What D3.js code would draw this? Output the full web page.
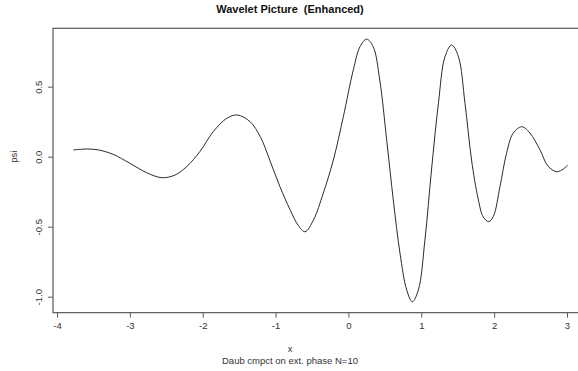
<!DOCTYPE html>
<html>
<head>
<meta charset="utf-8">
<script src="https://cdn.jsdelivr.net/npm/d3@7"></script>
<style>
  html, body { margin: 0; padding: 0; background: #fff; }
  svg { display: block; }
  text { font-family: "Liberation Sans", Arial, sans-serif; white-space: pre; }
</style>
</head>
<body>
<svg id="chart" width="578" height="371"></svg>
<script>
// Daubechies compactly supported wavelet, extremal phase, N=10 (sampled psi)
const xs = [-3.776, -3.59, -3.43, -3.23, -3.0, -2.77, -2.56, -2.38, -2.22, -2.04,
  -1.855, -1.67, -1.525, -1.35, -1.21, -1.08, -0.94, -0.80, -0.69, -0.596,
  -0.48, -0.345, -0.207, -0.07, 0.067, 0.159, 0.25, 0.34, 0.43, 0.525,
  0.616, 0.708, 0.80, 0.877, 0.96, 1.05, 1.14, 1.235, 1.325, 1.417,
  1.51, 1.60, 1.69, 1.78, 1.85, 1.925, 1.99, 2.08, 2.17, 2.26,
  2.38, 2.49, 2.63, 2.74, 2.86, 2.95, 3.01];
const psi = [0.048, 0.055, 0.048, 0.017, -0.047, -0.114, -0.150, -0.131, -0.071, 0.036,
  0.179, 0.274, 0.298, 0.250, 0.143, -0.024, -0.214, -0.380, -0.49, -0.536,
  -0.452, -0.260, -0.024, 0.286, 0.620, 0.786, 0.840, 0.786, 0.548, 0.120,
  -0.310, -0.690, -0.952, -1.036, -0.952, -0.595, -0.095, 0.381, 0.714, 0.798,
  0.714, 0.381, -0.024, -0.300, -0.430, -0.464, -0.425, -0.214, 0.024, 0.167,
  0.214, 0.170, 0.048, -0.068, -0.107, -0.088, -0.059];

const xTicks = [-4, -3, -2, -1, 0, 1, 2, 3];
const yTicks = [-1.0, -0.5, 0.0, 0.5];

const titleText = "Wavelet Picture  (Enhanced)";
const xLabel = "x";
const yLabel = "psi";
const subText = "Daub cmpct on ext. phase N=10";

const svg = d3.select("#chart");

const x = d3.scaleLinear().domain([-4, 3]).range([57, 567]);
const y = d3.scaleLinear().domain([0, -1]).range([156.7, 296.7]);

// plot region limits (data range padded by 4%)
const xLim = [-4.055, 3.3];
const yLim = [-1.114, 0.917];

const axisCol = "#5a5a5a";

// plot box
svg.append("rect")
  .attr("x", x(xLim[0]))
  .attr("y", y(yLim[1]))
  .attr("width", x(xLim[1]) - x(xLim[0]))
  .attr("height", y(yLim[0]) - y(yLim[1]))
  .attr("fill", "none")
  .attr("stroke", axisCol)
  .attr("stroke-width", 1.2);

// x axis (plain hyphen minus signs)
const xAxis = d3.axisBottom(x).tickValues(xTicks).tickSize(5).tickPadding(5)
  .tickFormat(d => String(d));
const gx = svg.append("g")
  .attr("transform", `translate(0,${y(yLim[0])})`)
  .call(xAxis);
gx.select(".domain").remove();
gx.selectAll("line").attr("stroke", axisCol);
gx.selectAll("text").attr("font-size", "9.5px").attr("fill", "#333");

// y axis with rotated labels
const yAxis = d3.axisLeft(y).tickValues(yTicks).tickSize(5)
  .tickFormat(d => d.toFixed(1));
const gy = svg.append("g")
  .attr("transform", `translate(${x(xLim[0])},0)`)
  .call(yAxis);
gy.select(".domain").remove();
gy.selectAll("line").attr("stroke", axisCol);
gy.selectAll("text")
  .attr("font-size", "9.5px")
  .attr("fill", "#333")
  .attr("text-anchor", "middle")
  .attr("x", 0)
  .attr("dy", 0)
  .attr("transform", "translate(-14,0) rotate(-90)")
  .attr("y", 3.5);

// wavelet curve
const pts = xs.map((v, i) => [v, psi[i]]);
const line = d3.line()
  .x(d => x(d[0]))
  .y(d => y(d[1]))
  .curve(d3.curveCatmullRom.alpha(0.5));
svg.append("path")
  .datum(pts)
  .attr("d", line)
  .attr("fill", "none")
  .attr("stroke", "#2a2a2a")
  .attr("stroke-width", 1);

// titles
svg.append("text")
  .attr("x", 290).attr("y", 13)
  .attr("text-anchor", "middle")
  .attr("font-size", "11px")
  .attr("font-weight", "bold")
  .attr("fill", "#111")
  .text(titleText);

svg.append("text")
  .attr("x", 290).attr("y", 352)
  .attr("text-anchor", "middle")
  .attr("font-size", "9.5px")
  .attr("fill", "#333")
  .text(xLabel);

svg.append("text")
  .attr("x", 290).attr("y", 364)
  .attr("text-anchor", "middle")
  .attr("font-size", "9.5px")
  .attr("fill", "#333")
  .text(subText);

svg.append("text")
  .attr("transform", `translate(17,${y(0)}) rotate(-90)`)
  .attr("text-anchor", "middle")
  .attr("font-size", "9.5px")
  .attr("fill", "#333")
  .text(yLabel);
</script>
</body>
</html>
